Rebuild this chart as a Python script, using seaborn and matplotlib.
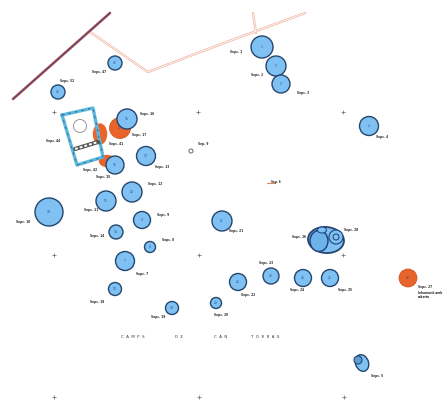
import matplotlib
matplotlib.use("Agg")
import matplotlib.pyplot as plt
from matplotlib.patches import Ellipse
import pandas as pd
import seaborn as sns

# pits measured on the site plan
blue_x = [115, 58, 127, 146, 115, 132, 106, 262, 276, 281, 369, 49, 142, 116, 150, 125, 115, 172, 216, 222, 238, 271, 303, 330]
blue_y = [63, 92, 119, 156, 165, 192, 201, 47, 66, 84, 126, 212, 220, 232, 247, 261, 289, 308, 303, 221, 282, 276, 278, 278]
blue_d = [14, 14, 20, 19, 18, 20, 20, 22, 20, 18, 19, 28, 17, 14, 11, 19, 13, 13, 11, 20, 17, 16, 17, 17]
blue_id = ["47", "52", "16", "13", "15", "12", "11", "1", "2", "3", "4", "10", "9", "14", "8", "7", "18", "19", "20", "21", "22", "23", "24", "25"]
orange_x = [120, 408]
orange_y = [128, 278]
orange_d = [21, 18]
orange_id = ["17", "27"]

label_x = [99, 67, 147, 139, 116, 53, 90, 103, 162, 155, 203, 236, 257, 303, 382, 23, 91, 163, 97, 168, 142, 97, 158, 221, 248, 266, 297, 345, 299, 351, 377, 236, 425]
label_y = [72, 81, 114, 135, 144, 141, 170, 177, 167, 184, 144, 52, 75, 93, 137, 222, 210, 215, 236, 240, 274, 302, 317, 315, 295, 263, 290, 290, 237, 230, 376, 231, 287]
label_text = ["Sepc. 47", "Sepc. 52", "Sepc. 16", "Sepc. 17", "Sepc. 41", "Sepc. 44", "Sepc. 42", "Sepc. 15", "Sepc. 13", "Sepc. 12", "Sep. 9", "Sepc. 1", "Sepc. 2", "Sepc. 3", "Sepc. 4", "Sepc. 10", "Sepc. 11", "Sepc. 9", "Sepc. 14", "Sepc. 8", "Sepc. 7", "Sepc. 18", "Sepc. 19", "Sepc. 20", "Sepc. 22", "Sepc. 23", "Sepc. 24", "Sepc. 25", "Sepc. 26", "Sepc. 28", "Sepc. 5", "Sepc. 21", "Sepc. 27"]

road_x = [90, 148, 224, 305]
road_y = [32, 72, 43, 13]
wall_x = [13, 110]
wall_y = [99, 13]
spur_x = [253, 256]
spur_y = [13, 33]
build_x = [62, 93, 103, 77, 62]
build_y = [115, 108, 157, 165, 115]
grid_x = [54, 198, 343, 54, 199, 343, 54, 199, 344]
grid_y = [112, 112, 112, 255, 255, 255, 397, 397, 397]
title_words = ["CAMPS", "DE", "CAN", "TORRAS"]
title_x = [133, 179, 221, 265]

BLUE, ORANGE, EDGE = "#7fc1f2", "#e9642b", "#24466e"
sns.set_theme(style="white")
plt.rcParams["font.family"] = ["DejaVu Sans"]
fig = plt.figure(figsize=(4.47, 4.0), dpi=100)
ax = fig.add_axes([0, 0, 1, 1])
ax.set_xlim(0, 447)
ax.set_ylim(400, 0)
ax.axis("off")

def area(d):
    return (d * 0.72) ** 2

for col, w in [("#f0b5a2", 1.7), ("white", 0.6)]:
    sns.lineplot(x=road_x, y=road_y, sort=False, estimator=None, color=col, lw=w, ax=ax, zorder=1)
    sns.lineplot(x=spur_x, y=spur_y, sort=False, estimator=None, color=col, lw=w, ax=ax, zorder=1)
sns.lineplot(x=wall_x, y=wall_y, sort=False, estimator=None, color="#e08a3c", lw=2.0, ax=ax, zorder=2)
sns.lineplot(x=wall_x, y=wall_y, sort=False, estimator=None, color="#6d3f86", lw=1.3, ax=ax, zorder=2)

# orange lobes beside the building
ax.add_patch(Ellipse((100, 134), 13, 20, color=ORANGE, zorder=2))
ax.add_patch(Ellipse((107, 161), 15, 11, color=ORANGE, zorder=2))

df_o = pd.DataFrame({"x": orange_x, "y": orange_y, "d": orange_d})
sns.scatterplot(data=df_o, x="x", y="y", size="d", sizes={d: area(d) for d in orange_d}, color=ORANGE,
                edgecolor="#c9501f", linewidth=0.5, legend=False, ax=ax, zorder=3)

df_b = pd.DataFrame({"x": blue_x, "y": blue_y, "d": blue_d})
sns.scatterplot(data=df_b, x="x", y="y", size="d", sizes={d: area(d) for d in blue_d}, color=BLUE,
                edgecolor=EDGE, linewidth=1.0, legend=False, ax=ax, zorder=4)

# building outline
sns.lineplot(x=build_x, y=build_y, sort=False, estimator=None, color="#5db7dc", lw=2.4, ax=ax, zorder=5)
sns.lineplot(x=build_x, y=build_y, sort=False, estimator=None, color="#2f6f96", lw=0.8, ls=(0, (2, 4)), ax=ax, zorder=5)
ax.plot([75, 98], [149, 142], color="#555555", lw=3.0, zorder=5)
ax.plot([75, 98], [149, 142], color="white", lw=1.4, ls=(0, (1.5, 1)), zorder=5)
ax.add_patch(Ellipse((80, 126), 13, 13, fc="white", ec="#8a8a8a", lw=0.6, zorder=5))
ax.add_patch(Ellipse((191, 151), 4, 4, fc="white", ec="#666666", lw=0.7, zorder=5))

# multi-pit cluster
ax.add_patch(Ellipse((326, 240), 36, 26, angle=5, fc=BLUE, ec=EDGE, lw=1.3, zorder=4))
ax.add_patch(Ellipse((319, 241), 18, 21, fc="#6db2e8", ec="#1d3f7a", lw=1.0, zorder=5))
ax.add_patch(Ellipse((336, 237), 14, 14, fc=BLUE, ec="#1d3f7a", lw=0.8, zorder=5))
ax.add_patch(Ellipse((336, 237), 6, 6, fc=BLUE, ec="#1d3f7a", lw=0.7, zorder=5))
ax.add_patch(Ellipse((322, 230), 9, 6, fc=BLUE, ec="#1d3f7a", lw=0.7, zorder=5))

# small double pit
ax.add_patch(Ellipse((362, 363), 13, 17, angle=-20, fc=BLUE, ec=EDGE, lw=1.0, zorder=4))
ax.add_patch(Ellipse((358, 360), 8, 8, fc="#5f9fd8", ec=EDGE, lw=0.8, zorder=5))

sns.scatterplot(x=grid_x, y=grid_y, marker="+", s=10, color="#777777", linewidth=0.6, legend=False, ax=ax, zorder=2)
ax.plot([267, 275], [183, 183], color="#e08a55", lw=0.8, zorder=2)
ax.text(276, 181.5, "Sep. 6", fontsize=2.0, ha="center", va="center", color="#222222", fontweight="bold", zorder=6)

for x, y, t in zip(blue_x + orange_x, blue_y + orange_y, blue_id + orange_id):
    ax.text(x, y, t, fontsize=2.2, ha="center", va="center", color="#1f4f92", zorder=6)
for x, y, t in zip(label_x, label_y, label_text):
    ax.text(x, y, t, fontsize=2.1, ha="center", va="center", color="#222222", fontweight="bold", zorder=6)
ax.text(418, 290.5, "Inhumació amb\ncoberta", fontsize=2.0, ha="left", va="top", color="#222222", fontweight="bold", zorder=6)
for x, t in zip(title_x, title_words):
    ax.text(x, 337, "  ".join(t), fontsize=2.8, ha="center", va="center", color="#333333", zorder=6)

fig.savefig("out.png", dpi=100)
